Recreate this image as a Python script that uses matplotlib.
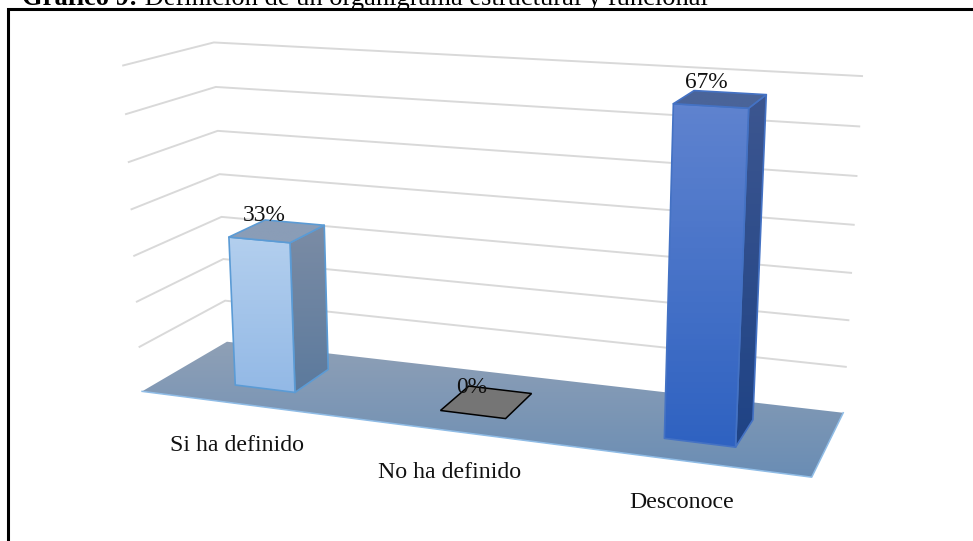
import numpy as np
import matplotlib
matplotlib.use('Agg')
from matplotlib import pyplot as plt
from matplotlib.patches import Polygon

categories = ['Si ha definido', 'No ha definido', 'Desconoce']
values = [33, 0, 67]
value_labels = ['33%', '0%', '67%']
grid_values = [10, 20, 30, 40, 50, 60, 70]
title_bold = 'Gráfico 9:'
title_rest = ' Definición de un organigrama estructural y funcional'

W, H = 973, 541

# reference points of the box: (u along categories, v depth, value) -> pixel
world = np.array([[0, 0, 0], [1, 0, 0], [1, 1, 0], [0, 1, 0],
                  [0, 1, 70], [1, 1, 70], [0, 0, 70]], dtype=float)
pix = np.array([[142, 391], [812, 477], [843, 413], [227, 342],
                [214, 42], [862, 76], [123, 66]], dtype=float)


def calibrate(world, pix):
	rows = []
	for (u, v, z), (x, y) in zip(world, pix):
		rows.append([u, v, z, 1, 0, 0, 0, 0, -x*u, -x*v, -x*z, -x])
		rows.append([0, 0, 0, 0, u, v, z, 1, -y*u, -y*v, -y*z, -y])
	_, _, vt = np.linalg.svd(np.array(rows))
	return vt[-1].reshape(3, 4)


P = calibrate(world, pix)


def proj(u, v, z):
	q = P @ np.array([u, v, z, 1.0])
	return q[0]/q[2], q[1]/q[2]


def gradient_poly(ax, pts, top, bottom, zorder, edge=None, lw=1.2):
	pts = np.array(pts)
	c0 = np.array(matplotlib.colors.to_rgb(top))
	c1 = np.array(matplotlib.colors.to_rgb(bottom))
	t = np.linspace(0, 1, 64)[:, None, None]
	img = c0[None, None, :]*(1-t) + c1[None, None, :]*t
	ext = (pts[:, 0].min(), pts[:, 0].max(), pts[:, 1].max(), pts[:, 1].min())
	im = ax.imshow(img, extent=ext, origin='upper', aspect='auto', zorder=zorder)
	clip = Polygon(pts, closed=True, transform=ax.transData, fc='none', ec='none')
	ax.add_patch(clip)
	im.set_clip_path(clip)
	if edge is not None:
		ax.add_patch(Polygon(pts, closed=True, fc='none', ec=edge, lw=lw, zorder=zorder+0.1, joinstyle='round'))


plt.rcParams['font.family'] = ['Liberation Serif', 'DejaVu Serif']
fig = plt.figure(figsize=(W/100, H/100), dpi=100)
ax = fig.add_axes([0, 0, 1, 1])
ax.set_xlim(0, W)
ax.set_ylim(H, 0)
ax.axis('off')

# frame, only top and left are on the page
ax.plot([7.5, 7.5, W], [H, 9, 9], color='black', lw=2.2, zorder=1, solid_joinstyle='miter')

# title, cut by the top of the page
t1 = ax.text(22, 5, title_bold, fontsize=19.1, fontweight='bold', va='baseline', zorder=6)
fig.canvas.draw()
bb = t1.get_window_extent()
ax.text(bb.x1, 5, title_rest, fontsize=19.1, va='baseline', zorder=6)

# gridlines on the side and back wall
for g in grid_values:
	a, b, c = proj(0, 0, g), proj(0, 1, g), proj(1, 1, g)
	ax.plot([a[0], b[0], c[0]], [a[1], b[1], c[1]], color='#d9d9d9', lw=1.4, zorder=2, solid_joinstyle='miter')

# floor
floor = [proj(0, 0, 0), proj(1, 0, 0), proj(1, 1, 0), proj(0, 1, 0)]
gradient_poly(ax, floor, '#8fa0b6', '#6a8db4', 3)
ax.plot([floor[0][0], floor[1][0], floor[2][0]], [floor[0][1], floor[1][1], floor[2][1]], color='#8fbce6', lw=1.1, zorder=3.2)

# bars
styles = [
	dict(front=('#b3cfee', '#93b9e6'), side=('#7b8ca5', '#5c7a9d'), top=('#8a9db7', '#8a9db7'), edge='#5b9bd5'),
	dict(front=('#757575', '#757575'), side=('#757575', '#757575'), top=('#757575', '#757575'), edge='black'),
	dict(front=('#5f83cf', '#2f62c1'), side=('#3c5690', '#1f4385'), top=('#4a6499', '#4a6499'), edge='#4472c4'),
]
bar_u = 0.5/3*np.array([1, 3, 5])
bar_w = 0.1
v0, v1 = 0.28, 0.72
label_xy = [(-13, -10), (-15, -9), (-14, -11)]
for i, val in enumerate(values):
	u0, u1 = bar_u[i]-bar_w/2, bar_u[i]+bar_w/2
	st = styles[i]
	if val > 0:
		gradient_poly(ax, [proj(u1, v0, val), proj(u1, v1, val), proj(u1, v1, 0), proj(u1, v0, 0)], *st['side'], 4, st['edge'])
		gradient_poly(ax, [proj(u0, v0, val), proj(u1, v0, val), proj(u1, v0, 0), proj(u0, v0, 0)], *st['front'], 4.2, st['edge'])
		gradient_poly(ax, [proj(u0, v0, val), proj(u1, v0, val), proj(u1, v1, val), proj(u0, v1, val)], *st['top'], 4.4, st['edge'])
	else:
		ax.add_patch(Polygon([proj(u0, v0, 0), proj(u1, v0, 0), proj(u1, v1, 0), proj(u0, v1, 0)], closed=True, fc=st['top'][0], ec='black', lw=1.1, zorder=4))
	x, y = proj(bar_u[i], 0.5, val)
	ax.text(x+label_xy[i][0], y+label_xy[i][1], value_labels[i], ha='center', va='baseline', fontsize=16.8, color='#111111', zorder=7)

# category labels
for i, c in enumerate(categories):
	x, y = proj(bar_u[i], 0, 0)
	ax.text(x-5, y+41, c, ha='center', va='center', fontsize=17.2, color='#111111', zorder=7)

fig.savefig('out.png', dpi=100)
